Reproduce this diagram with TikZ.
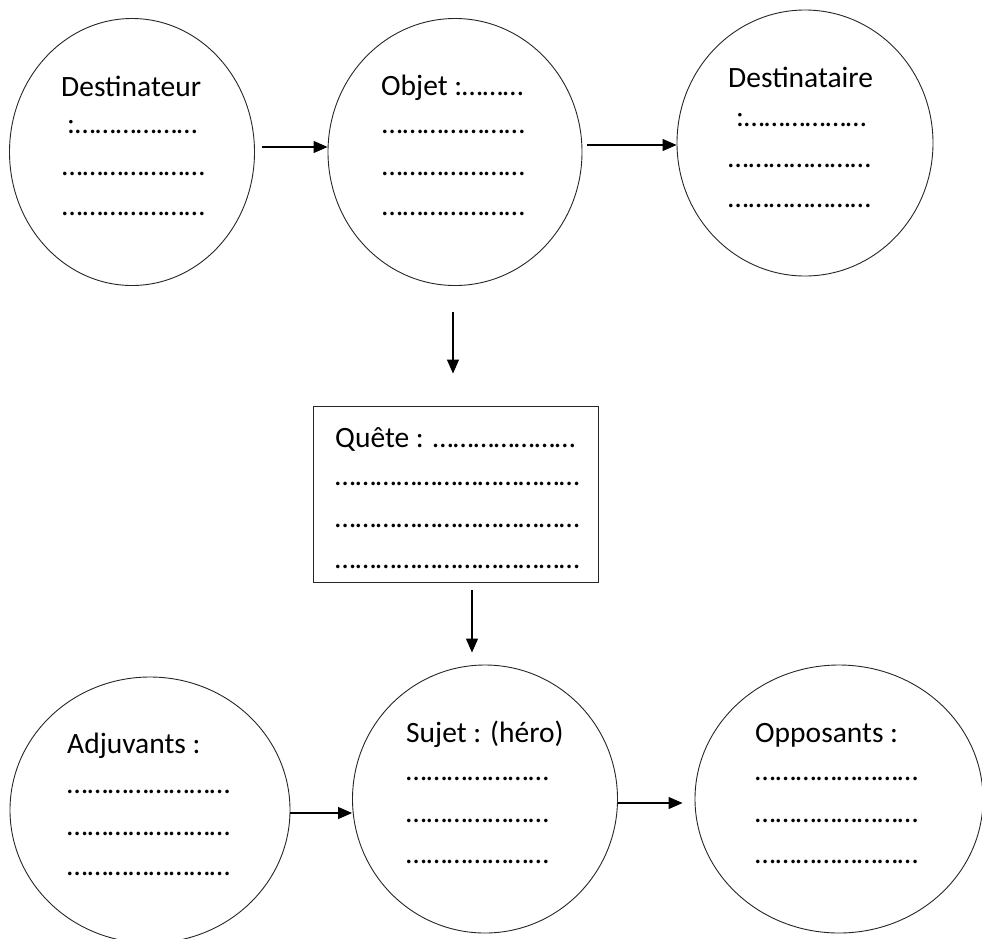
\documentclass[tikz,border=0pt]{standalone}
\usepackage{fontspec}
\setmainfont{Carlito}
\usetikzlibrary{shapes.geometric,arrows.meta}
\newcommand\dts[1]{\foreach\k in {1,...,#1}{…}}
\tikzset{
  circ/.style={draw=black!85, line width=0.9pt, ellipse, inner sep=0pt},
  txt/.style={anchor=base west, inner sep=0pt, font=\fontsize{29.5}{32}\selectfont},
  arr/.style={draw=black, line width=1.1pt, -{Triangle[length=14pt,width=12pt]}}
}
\begin{document}
\begin{tikzpicture}[x=1pt,y=-1pt]
\useasboundingbox (0,0) rectangle (982,938);
% circles
\node[circ, minimum width=245pt, minimum height=267pt] (d1) at (132,152) {};
\node[circ, minimum width=254pt, minimum height=267pt] (o2) at (455,152) {};
\node[circ, minimum width=256pt, minimum height=266pt] (d3) at (805,143) {};
\node[draw=black!85, line width=0.9pt, minimum width=285pt, minimum height=176pt, inner sep=0pt] (q) at (455.5,494) {};
\node[circ, minimum width=280pt, minimum height=266pt] (a4) at (150,810) {};
\node[circ, minimum width=265pt, minimum height=268pt] (s5) at (485,799) {};
\node[circ, minimum width=288pt, minimum height=268pt] (p6) at (839,799) {};
% texts
\node[txt] (t1a) at (61,96) {Destinateur};
\node[txt] (t1b) at (67,133) {:\dts{6}};
\node[txt] (t1c) at (62,175) {\dts{7}};
\node[txt] (t1d) at (62,215) {\dts{7}};
\node[txt] (t2a) at (381,95) {Objet :\dts{3}};
\node[txt] (t2b) at (382,133) {\dts{7}};
\node[txt] (t2c) at (382,175) {\dts{7}};
\node[txt] (t2d) at (382,215) {\dts{7}};
\node[txt] (t3a) at (728,87) {Destinataire};
\node[txt] (t3b) at (736,126) {:\dts{6}};
\node[txt] (t3c) at (728,167) {\dts{7}};
\node[txt] (t3d) at (728,207) {\dts{7}};
\node[txt] (tqa) at (335,447) {Quête : \dts{7}};
\node[txt] (tqb) at (335,485) {\dts{12}};
\node[txt] (tqc) at (335,527) {\dts{12}};
\node[txt] (tqd) at (335,568) {\dts{12}};
\node[txt] (t4a) at (67,753) {Adjuvants :};
\node[txt] (t4b) at (67,793) {\dts{8}};
\node[txt] (t4c) at (67,835) {\dts{8}};
\node[txt] (t4d) at (67,875) {\dts{8}};
\node[txt] (t5a) at (406,742) {Sujet : (héro)};
\node[txt] (t5b) at (406,780) {\dts{7}};
\node[txt] (t5c) at (406,822) {\dts{7}};
\node[txt] (t5d) at (406,863) {\dts{7}};
\node[txt] (t6a) at (755,742) {Opposants :};
\node[txt] (t6b) at (755,780) {\dts{8}};
\node[txt] (t6c) at (755,822) {\dts{8}};
\node[txt] (t6d) at (755,863) {\dts{8}};
% arrows
\draw[arr, shorten <=7pt] ([yshift=5pt]d1.east) -- ([yshift=5pt]o2.west);
\draw[arr, shorten <=5pt] ([yshift=7pt]o2.east) -- ([yshift=-2pt]d3.west);
\draw[arr, shorten <=26pt, shorten >=32pt] ([xshift=-2pt]o2.south) -- ([xshift=-2pt]o2.south |- q.north);
\draw[arr, shorten <=8pt, shorten >=12pt] ([xshift=16.5pt]q.south) -- ([xshift=16.5pt]q.south |- s5.north);
\draw[arr] ([yshift=-3pt]a4.east) -- ([yshift=-14pt]s5.west);
\draw[arr, shorten >=12pt] ([yshift=-4pt]s5.east) -- ([yshift=-4pt]p6.west);
\end{tikzpicture}
\end{document}
